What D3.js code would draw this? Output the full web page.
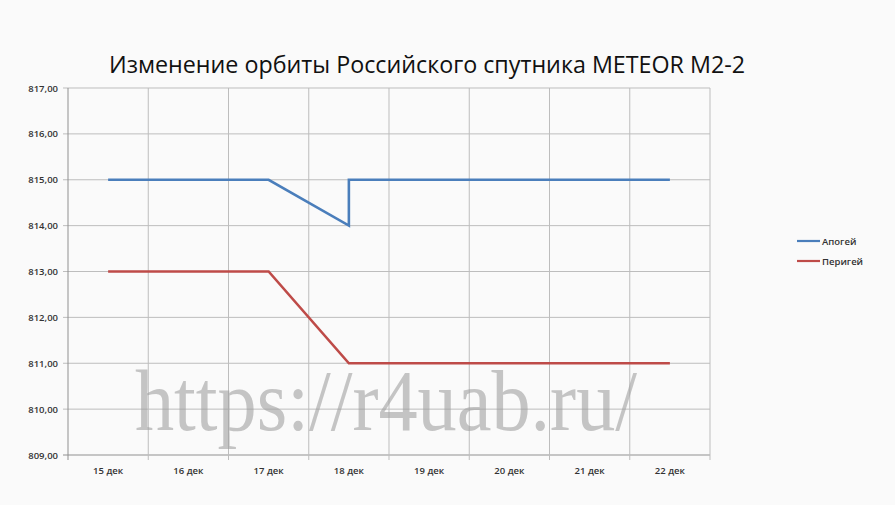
<!DOCTYPE html>
<html><head><meta charset="utf-8">
<script src="https://cdn.jsdelivr.net/npm/d3@7"></script>
<style>body{margin:0;background:#fafafa}svg{display:block}</style>
</head><body>
<script>
const categories = ['15 дек','16 дек','17 дек','18 дек','19 дек','20 дек','21 дек','22 дек'];
const pointDates = ['15 дек','16 дек','17 дек','18 дек','18 дек','19 дек','20 дек','21 дек','22 дек'];
const apogee  = [815,815,815,814,815,815,815,815,815];
const perigee = [813,813,813,811,811,811,811,811,811];
const yTicks = [809,810,811,812,813,814,815,816,817];
const seriesNames = ['Апогей','Перигей'];
const colors = ['#4a7ebb','#be4b48'];

const W=895,H=505;
const svg=d3.select('body').append('svg').attr('width',W).attr('height',H);
svg.append('rect').attr('width',W).attr('height',H).attr('fill','#fafafa');
const L=68,R=710,T=88,B=455;
const x=d3.scaleBand().domain(categories).range([L,R]).padding(0);
const y=d3.scaleLinear().domain([809,817]).range([B,T]);
const fmt=v=>d3.format('.2f')(v).replace('.',',');

// horizontal gridlines
svg.selectAll('.hg').data(yTicks).join('line')
  .attr('x1',L-5).attr('x2',R).attr('y1',d=>y(d)).attr('y2',d=>y(d))
  .attr('stroke',d=>d===809?'#909090':'#bdbdbd').attr('stroke-width',1);
// vertical gridlines
const bounds=categories.map(c=>x(c)).concat([R]);
svg.selectAll('.vg').data(bounds).join('line')
  .attr('x1',d=>d).attr('x2',d=>d).attr('y1',T).attr('y2',B+5)
  .attr('stroke',(d,i)=>i===0?'#909090':'#bdbdbd').attr('stroke-width',1);

// y labels
svg.selectAll('.yl').data(yTicks).join('text')
  .attr('x',L-10).attr('y',d=>y(d)+3.5).attr('text-anchor','end')
  .attr('font-family','Open Sans, sans-serif').attr('font-size',9.5).attr('font-weight',600).attr('fill','#333')
  .text(fmt);
// x labels
svg.selectAll('.xl').data(categories).join('text')
  .attr('x',d=>x(d)+x.bandwidth()/2).attr('y',B+19).attr('text-anchor','middle')
  .attr('font-family','Open Sans, sans-serif').attr('font-size',9.5).attr('font-weight',600).attr('fill','#333')
  .text(d=>d);

// watermark
svg.append('text').attr('x',135).attr('y',430)
  .attr('font-family','Liberation Serif, serif').attr('font-size',86)
  .attr('textLength',502).attr('lengthAdjust','spacingAndGlyphs')
  .attr('fill','#a0a0a0').attr('fill-opacity',0.6).text('https://r4uab.ru/');

// lines
const line=d3.line().x((d,i)=>x(pointDates[i])+x.bandwidth()/2).y(d=>y(d));
[apogee,perigee].forEach((s,k)=>{
  svg.append('path').datum(s).attr('d',line).attr('fill','none')
    .attr('stroke',colors[k]).attr('stroke-width',2.6).attr('stroke-linejoin','miter');
});

// title
svg.append('text').attr('x',427).attr('y',73).attr('text-anchor','middle')
  .attr('font-family','Open Sans, sans-serif').attr('font-size',24).attr('fill','#111')
  .attr('textLength',636).attr('lengthAdjust','spacingAndGlyphs')
  .text('Изменение орбиты Российского спутника METEOR M2-2');

// legend
const lg=svg.append('g');
seriesNames.forEach((n,k)=>{
  const yy=241+k*20;
  lg.append('line').attr('x1',797).attr('x2',820).attr('y1',yy).attr('y2',yy).attr('stroke',colors[k]).attr('stroke-width',2.2);
  lg.append('text').attr('x',822).attr('y',yy+3.5).attr('font-family','Open Sans, sans-serif').attr('font-size',9.5).attr('font-weight',600).attr('fill','#333').text(n);
});
</script>
</body></html>
